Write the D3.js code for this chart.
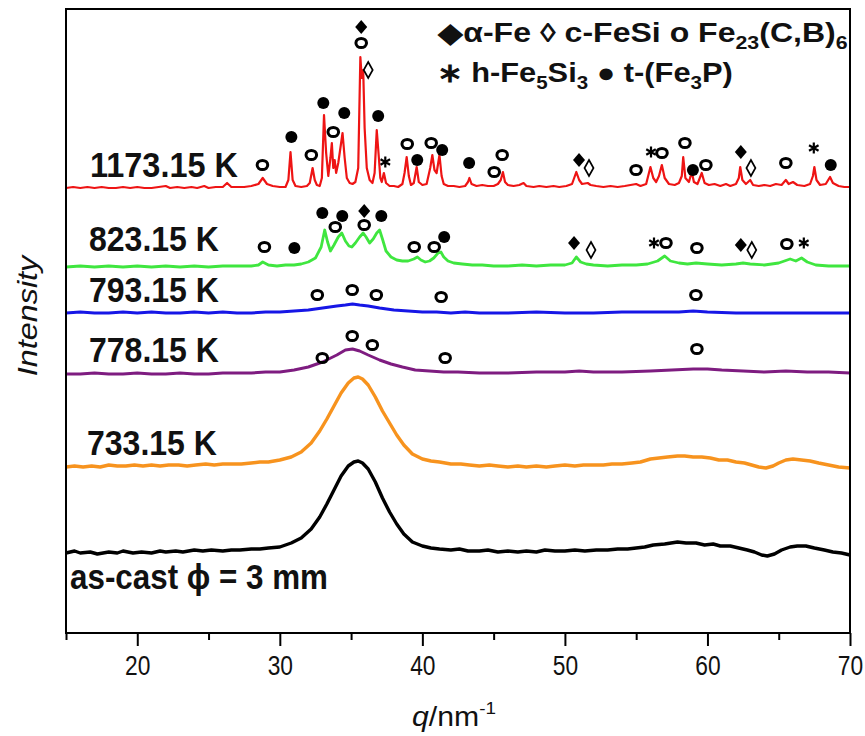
<!DOCTYPE html>
<html>
<head>
<meta charset="utf-8">
<script src="https://cdn.jsdelivr.net/npm/d3@7"></script>
<style>
  body { margin: 0; background: #fff; }
  svg { display: block; }
</style>
</head>
<body>
<svg id="chart" width="865" height="736"></svg>
<script>
// ---- XRD patterns of the alloy after annealing at several temperatures ----
// Intensities are in arbitrary units, relative to each pattern's own baseline.

const qMajorTicks = [20, 30, 40, 50, 60, 70];
const qMinorTicks = [15, 25, 35, 45, 55, 65];

const seriesLabels = ["as-cast \u03D5 = 3 mm", "733.15 K", "778.15 K", "793.15 K", "823.15 K", "1173.15 K"];
const seriesOffsets = [80, 166, 259, 320, 366, 445];

const asCast = [[15,0],[15.6,2],[16,0],[16.7,1],[17.2,-1],[18,1],[18.6,0],[19,2],[19.7,0],[20.3,1],[21,0],[21.6,2],[22,1],[22.7,2],[23.2,1],[24,3],[24.6,2],[25.2,3],[26,2],[26.6,3],[27.2,3],[28,4],[28.6,4],[29.2,5],[30,6],[30.8,10],[31.5,15],[32.2,24],[32.8,36],[33.3,49],[33.8,63],[34.3,77],[34.8,87],[35.2,91],[35.5,92],[35.8,90],[36.2,84],[36.7,71],[37.2,55],[37.7,41],[38.2,29],[38.7,19],[39.3,11],[40,7],[40.6,5],[41.2,4],[42,3],[42.6,4],[43.2,2],[44,2],[44.6,3],[45.3,1],[46,2],[46.7,1],[47.3,2],[48,1],[48.6,3],[49.3,2],[50,2],[50.7,3],[51.4,2],[52.2,3],[53,3],[53.7,4],[54.4,4],[55,5],[55.6,6],[56.2,8],[57,9],[57.9,11],[58.5,10],[59.2,10],[59.8,8],[60.4,9],[60.9,7],[61.6,7],[62.2,5],[62.8,3],[63.3,1],[63.8,-2],[64.2,-3],[64.7,-1],[65.2,3],[65.8,6],[66.3,7],[66.9,7],[67.5,5],[68.2,3],[68.8,1],[69.4,0],[70,-2]];

const k733 = [[15,0],[15.6,1],[16.2,0],[16.8,1],[17.4,0],[18,2],[18.6,1],[19.2,1],[19.8,2],[20.4,1],[21,2],[21.6,1],[22.2,2],[22.9,2],[23.5,1],[24.1,2],[24.8,3],[25.4,2],[26,3],[26.7,3],[27.3,3],[28,4],[28.6,5],[29.2,5],[30,7],[30.8,10],[31.5,15],[32.2,24],[32.8,36],[33.3,48],[33.8,61],[34.3,74],[34.8,84],[35.2,89],[35.5,90],[35.8,88],[36.2,82],[36.7,70],[37.2,56],[37.7,44],[38.2,32],[38.7,22],[39.3,13],[40,8],[40.6,6],[41.2,5],[42,3],[42.7,3],[43.3,2],[44,1],[44.7,2],[45.3,1],[46,0],[46.7,1],[47.3,0],[48,1],[48.7,0],[49.3,1],[50,2],[50.7,1],[51.3,2],[52,2],[52.7,2],[53.3,3],[54,3],[54.7,4],[55.3,5],[56,8],[56.6,9],[57.2,10],[57.9,11],[58.4,11],[59,10],[59.6,10],[60.2,9],[60.8,7],[61.4,7],[62,5],[62.6,4],[63.1,2],[63.6,0],[64.1,-1],[64.6,1],[65,4],[65.5,7],[66,8],[66.6,7],[67.2,6],[67.8,4],[68.5,2],[69.2,0],[70,-1]];

const k778 = [[15,0],[16,0],[17,1],[18,0],[19,0],[20,1],[21,0],[22,0],[23,1],[24,0],[25,0],[26,1],[27,1],[28,1],[29,2],[30,2],[31,4],[32,7],[33,12],[34,19],[34.6,24],[35.1,25],[35.6,23],[36.2,19],[37,14],[37.8,10],[38.6,7],[39.5,4],[40.5,3],[41.5,2],[42.5,2],[44,1],[46,1],[48,2],[50,2],[51,3],[52,2],[54,2],[56,3],[57.5,4],[59,5],[60,5],[61,4],[62.5,3],[64,2],[65.5,3],[67,2],[68.5,2],[70,1]];

const k793 = [[15,0],[16,1],[17,0],[18,0],[19,1],[20,0],[21,1],[22,0],[23,0],[24,1],[25,0],[26,1],[27,0],[28,0],[29,1],[30,1],[31,2],[32,3],[33,5],[34,7],[34.6,8],[35.1,9],[35.6,8],[36.2,7],[37,5],[38,3],[39,2],[40,1],[41,1],[42,0],[43,1],[44,0],[46,0],[48,1],[50,0],[52,0],[54,1],[56,1],[58,1],[59,2],[60,1],[62,0],[64,0],[66,0],[68,0],[70,0]];

const k823 = [[15,0],[16,1],[17,0],[18,1],[19,0],[20,1],[21,0],[22,1],[23,0],[24,1],[25,0],[26,1],[27,1],[28,1],[28.5,2],[28.8,5],[29.2,2],[29.8,1],[30.4,2],[31,2],[31.5,3],[32,5],[32.5,9],[32.9,20],[33.15,37],[33.35,25],[33.55,16],[33.8,22],[34.1,30],[34.35,34],[34.6,26],[34.85,21],[35.05,20],[35.3,24],[35.6,30],[35.85,34],[36.05,30],[36.3,24],[36.55,28],[36.8,34],[37,37],[37.2,28],[37.45,16],[37.8,10],[38.2,7],[38.6,6],[39,6],[39.4,8],[39.65,10],[39.9,7],[40.2,5],[40.5,6],[40.8,9],[41.1,14],[41.3,15],[41.5,10],[41.8,6],[42.2,4],[42.8,3],[43.5,2],[44.2,2],[45,1],[46,1],[47,2],[48,1],[49,2],[50,2],[50.5,4],[50.8,10],[51.1,5],[51.5,3],[52,2],[53,1],[54,2],[55,2],[55.8,3],[56.5,6],[57,11],[57.4,6],[58,4],[58.6,3],[59.2,4],[60,3],[61,2],[62,3],[62.5,4],[63,3],[64,2],[65,4],[65.8,8],[66.2,6],[66.6,9],[67,5],[67.6,2],[68.5,1],[69.3,1],[70,1]];

const k1173 = [[15,0],[15.5,1],[16,0],[16.5,1],[17,0],[17.5,1],[18,0],[18.5,0],[19,1],[19.5,0],[20,1],[20.5,0],[21,0],[21.5,1],[22,2],[22.3,0],[22.8,1],[23.3,0],[23.8,1],[24.2,0],[24.7,2],[25,0],[25.5,1],[26,1],[26.3,5],[26.6,1],[27,1],[27.5,1],[28,2],[28.5,4],[28.8,10],[29.1,4],[29.5,2],[30,1],[30.4,1],[30.6,8],[30.75,36],[30.9,8],[31.1,2],[31.5,1],[31.9,2],[32.1,5],[32.3,20],[32.45,8],[32.6,3],[32.8,2],[32.95,10],[33.1,73],[33.25,35],[33.4,12],[33.55,30],[33.65,45],[33.75,20],[33.85,28],[33.95,15],[34.1,25],[34.25,40],[34.4,55],[34.55,30],[34.7,10],[34.9,5],[35.1,4],[35.3,6],[35.5,20],[35.65,131],[35.75,110],[35.85,118],[35.95,60],[36.1,20],[36.3,8],[36.5,5],[36.65,15],[36.8,58],[36.95,30],[37.05,10],[37.15,6],[37.3,15],[37.45,5],[37.7,2],[38,2],[38.3,1],[38.6,4],[38.75,15],[38.9,31],[39.05,12],[39.2,3],[39.4,5],[39.6,21],[39.75,6],[40,3],[40.3,4],[40.55,20],[40.7,33],[40.85,18],[41,15],[41.2,33],[41.35,12],[41.5,4],[41.8,2],[42.2,2],[42.6,1],[43,2],[43.2,6],[43.3,10],[43.45,4],[43.8,2],[44.2,3],[44.6,2],[45,2],[45.3,4],[45.5,8],[45.65,16],[45.8,6],[46,3],[46.4,2],[46.8,3],[47.1,5],[47.3,2],[47.8,1],[48.2,2],[48.7,1],[49.2,2],[49.6,1],[50.1,2],[50.5,4],[50.8,16],[51,8],[51.2,4],[51.6,5],[51.8,3],[52.2,2],[52.7,1],[53.2,2],[53.7,1],[54.2,2],[54.6,3],[55,4],[55.3,2],[55.7,4],[56,21],[56.2,10],[56.4,6],[56.6,12],[56.8,23],[57,10],[57.3,4],[57.7,3],[58,5],[58.2,12],[58.3,31],[58.45,10],[58.7,6],[58.9,16],[59.05,6],[59.3,4],[59.6,15],[59.8,5],[60.1,3],[60.5,4],[60.9,2],[61.3,4],[61.6,2],[62,4],[62.2,10],[62.3,21],[62.45,8],[62.7,4],[63,8],[63.2,3],[63.6,2],[64,3],[64.4,2],[64.8,4],[65.2,3],[65.5,8],[65.7,4],[66,6],[66.3,3],[66.8,2],[67.2,4],[67.4,12],[67.5,21],[67.65,8],[67.9,3],[68.3,4],[68.6,11],[68.8,5],[69.2,2],[69.6,1],[70,1]];

const patterns = [asCast, k733, k778, k793, k823, k1173];

// Phase markers: [phase, q, height above the pattern baseline]
// dia = alpha-Fe, odia = c-FeSi, o = Fe23(C,B)6, ast = h-Fe5Si3, dot = t-(Fe3P)
const marks1173 = [["o",28.78,23],["dot",30.81,51],["o",32.21,33],["dot",33.05,85],["o",33.75,56],["dot",34.52,75],["dia",35.71,161],["o",35.71,145],["odia",36.2,118],["dot",36.9,72],["ast",37.4,26],["o",38.94,44],["dot",39.64,28],["o",40.62,45],["dot",41.39,38],["dot",43.28,25],["o",45.04,16],["o",45.6,33],["dia",50.99,28],["odia",51.69,20],["o",54.99,18],["ast",56.04,36],["o",56.81,35],["o",58.42,45],["dot",58.98,18],["o",59.89,23],["dia",62.34,36],["odia",63.05,20],["o",65.5,25],["ast",67.46,40],["dot",68.65,23]];
const marks823 = [["o",28.92,20],["dot",31.02,19],["dot",32.98,54],["o",33.89,40],["dot",34.38,51],["dia",35.92,56],["o",35.92,42],["dot",37.12,51],["o",39.43,20],["o",40.83,20],["dot",41.53,30],["dia",50.64,24],["odia",51.83,17],["ast",56.25,24],["o",57.09,24],["o",59.26,19],["dia",62.34,22],["odia",63.11,17],["o",65.57,23],["ast",66.76,24]];
const marks793 = [["o",32.63,18],["o",35.08,23],["o",36.77,18],["o",41.32,16],["o",59.19,18]];
const marks778 = [["o",32.98,16],["o",35.08,38],["o",36.49,29],["o",41.6,16],["o",59.26,25]];
const seriesMarks = [[], [], marks778, marks793, marks823, marks1173];

// ---- drawing ----
const W = 865, H = 736;
const plot = { left: 66, right: 850, top: 9, bottom: 633 };
const FONT = "'Liberation Sans', Arial, Helvetica, sans-serif";
const colors = ["#000000", "#f7931e", "#7e1c80", "#1616e6", "#3fe63f", "#ee1414"];
const widths = [3.4, 3.4, 3, 3, 2.8, 2.2];

const svg = d3.select("#chart");
svg.append("rect").attr("width", W).attr("height", H).attr("fill", "#fff");

const x = d3.scaleLinear().domain([15, 70]).range([plot.left, plot.right]);
const y = d3.scaleLinear().domain([0, plot.bottom - plot.top]).range([plot.bottom, plot.top]);

const line = d3.line().x(d => x(d[0])).y(d => y(d[1]));

const curves = svg.append("g").attr("fill", "none").attr("stroke-linejoin", "round");
patterns.forEach((pts, i) => {
  const off = seriesOffsets[i];
  curves.append("path")
    .datum(pts.map(p => [p[0], p[1] + off]))
    .attr("stroke", colors[i])
    .attr("stroke-width", widths[i])
    .attr("d", line);
});

// phase markers
const mk = svg.append("g");
function drawMark(type, cx, cy) {
  if (type === "o") {
    mk.append("ellipse").attr("cx", cx).attr("cy", cy).attr("rx", 5.3).attr("ry", 4.6)
      .attr("fill", "none").attr("stroke", "#000").attr("stroke-width", 3);
  } else if (type === "dot") {
    mk.append("circle").attr("cx", cx).attr("cy", cy).attr("r", 6).attr("fill", "#000");
  } else if (type === "dia") {
    mk.append("path").attr("d", `M${cx},${cy - 7}L${cx + 6},${cy}L${cx},${cy + 7}L${cx - 6},${cy}Z`).attr("fill", "#000");
  } else if (type === "odia") {
    mk.append("path").attr("d", `M${cx},${cy - 8}L${cx + 4.5},${cy}L${cx},${cy + 8}L${cx - 4.5},${cy}Z`)
      .attr("fill", "none").attr("stroke", "#000").attr("stroke-width", 1.7);
  } else if (type === "ast") {
    const r = 5.5;
    const a = Math.cos(Math.PI / 6) * r, b = Math.sin(Math.PI / 6) * r;
    mk.append("path")
      .attr("d", `M${cx},${cy - r}L${cx},${cy + r}M${cx - a},${cy - b}L${cx + a},${cy + b}M${cx - a},${cy + b}L${cx + a},${cy - b}`)
      .attr("stroke", "#000").attr("stroke-width", 2.2);
  }
}
seriesMarks.forEach((list, i) => {
  list.forEach(([type, q, h]) => drawMark(type, x(q), y(seriesOffsets[i] + h)));
});

// frame
svg.append("rect")
  .attr("x", plot.left).attr("y", plot.top)
  .attr("width", plot.right - plot.left).attr("height", plot.bottom - plot.top)
  .attr("fill", "none").attr("stroke", "#000").attr("stroke-width", 2);

// x axis: major and minor ticks
const axisMajor = svg.append("g").attr("transform", `translate(0,${plot.bottom})`)
  .call(d3.axisBottom(x).tickValues(qMajorTicks).tickSize(13).tickFormat(d3.format("d")));
const axisMinor = svg.append("g").attr("transform", `translate(0,${plot.bottom})`)
  .call(d3.axisBottom(x).tickValues(qMinorTicks).tickSize(7).tickFormat(""));
[axisMajor, axisMinor].forEach(a => {
  a.select(".domain").remove();
  a.selectAll("line").attr("stroke", "#000").attr("stroke-width", 2);
});
axisMajor.selectAll("text")
  .attr("y", 0).attr("dy", null)
  .attr("fill", "#111")
  .style("font-family", FONT).style("font-size", "24px")
  .attr("transform", "translate(0,42) scale(0.95,1.18)");

// text helper: fits a text node to a given horizontal extent
function fitText(node, left, width, baseline, sy) {
  const bb = node.node().getBBox();
  const sx = width / bb.width;
  node.attr("transform", `translate(${left - bb.x * sx},${baseline}) scale(${sx},${sy})`);
}

// series labels
const labelBoxes = [[70, 258, 589], [87, 130, 455], [89, 130, 362], [89, 130, 302], [89, 130, 251], [90, 148, 177]];
seriesLabels.forEach((txt, i) => {
  const t = svg.append("text").attr("x", 0).attr("y", 0)
    .style("font-family", FONT).style("font-weight", "bold").style("font-size", "32px")
    .attr("fill", "#111").text(txt);
  fitText(t, labelBoxes[i][0], labelBoxes[i][1], labelBoxes[i][2], 1.08);
});

// legend (two lines with subscripts)
function richText(parts) {
  const t = svg.append("text").attr("x", 0).attr("y", 0)
    .style("font-family", FONT).style("font-weight", "bold").style("font-size", "24px").attr("fill", "#111");
  parts.forEach(p => {
    const s = t.append("tspan").text(p[0]);
    if (p[1]) s.attr("font-size", "16px").attr("dy", 6);
    else if (p[2]) s.attr("dy", -6);
  });
  return t;
}
const leg1 = richText([["\u25C6\u03B1-Fe \u25CA c-FeSi o Fe"], ["23", true], ["(C,B)", false, true], ["6", true]]);
fitText(leg1, 437, 410, 42, 1.12);
const leg2 = richText([["\u2217 h-Fe"], ["5", true], ["Si", false, true], ["3", true], [" \u25CF t-(Fe", false, true], ["3", true], ["P)", false, true]]);
fitText(leg2, 437, 296, 82, 1.12);

// axis titles
const xt = svg.append("text").attr("x", 0).attr("y", 0)
  .style("font-family", FONT).style("font-size", "24px").attr("fill", "#111");
xt.append("tspan").style("font-style", "italic").text("q");
xt.append("tspan").text("/nm");
xt.append("tspan").attr("font-size", "15px").attr("dy", -11).text("-1");
fitText(xt, 412, 84, 726, 1.12);

const yt = svg.append("text").attr("x", 0).attr("y", 0)
  .attr("text-anchor", "middle")
  .style("font-family", FONT).style("font-style", "italic").style("font-size", "28px")
  .attr("fill", "#111").text("Intensity");
const ytw = yt.node().getBBox().width;
yt.attr("transform", `translate(37,316) scale(1,${123 / ytw}) rotate(-90)`);
</script>
</body>
</html>
